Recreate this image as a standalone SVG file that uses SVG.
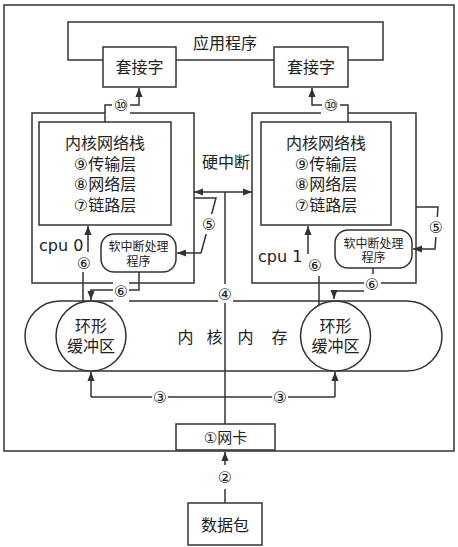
<svg xmlns="http://www.w3.org/2000/svg" width="458" height="547" viewBox="0 0 458 547">
<style>
.b{fill:#fff;stroke:#333;stroke-width:1.5}
.l{fill:none;stroke:#333;stroke-width:1.5}
.c{fill:none;stroke:#333;stroke-width:1.5}
.bg{fill:#fff}
text{font-family:"DejaVu Sans","Noto Sans CJK SC",sans-serif;fill:#222;text-anchor:middle}
.t16{font-size:16px}
.t15{font-size:15px}
.t12{font-size:12px}
.n{font-size:16px;dominant-baseline:central}
.s{text-anchor:start}
</style>
<defs>
<marker id="a" viewBox="0 0 10 8" refX="10" refY="4" markerWidth="9" markerHeight="8" markerUnits="userSpaceOnUse" orient="auto"><path d="M0,0 L10,4 L0,8 z" fill="#333"/></marker>
</defs>
<rect id="frame" class="c" x="4" y="5" width="450" height="446"/>
<g id="app"><rect class="b" x="68" y="22" width="315" height="38"/><text class="t16" x="225" y="49">应用程序</text></g>
<g id="sock0"><rect class="b" x="103" y="47" width="73" height="40"/><text class="t16" x="139.5" y="73">套接字</text></g>
<g id="sock1"><rect class="b" x="274" y="47" width="74" height="40"/><text class="t16" x="311" y="73">套接字</text></g>
<g id="cpu0">
<path class="l" d="M105,113 H32 V283 H194 V113 H128"/>
<text class="t16 s" x="39" y="251">cpu 0</text>
</g>
<g id="stack0"><rect class="b" x="39" y="122" width="132" height="103"/>
<text class="t16" x="105" y="149">内核网络栈</text><text class="t16" x="105" y="170">⑨传输层</text><text class="t16" x="105" y="190">⑧网络层</text><text class="t16" x="105" y="211">⑦链路层</text></g>
<g id="soft0"><rect class="b" x="101" y="234" width="75" height="38" rx="13"/><text class="t12" x="138.5" y="251">软中断处理</text><text class="t12" x="138.5" y="266">程序</text></g>
<g id="cpu1">
<path class="l" d="M321,113 H252 V283 H416 V113 H348"/>
<text class="t16 s" x="258" y="262">cpu 1</text>
</g>
<g id="stack1"><rect class="b" x="261" y="122" width="130" height="103"/>
<text class="t16" x="326" y="149">内核网络栈</text><text class="t16" x="326" y="170">⑨传输层</text><text class="t16" x="326" y="190">⑧网络层</text><text class="t16" x="326" y="211">⑦链路层</text></g>
<g id="soft1"><rect class="b" x="335" y="230" width="77" height="38" rx="13"/><text class="t12" x="373.5" y="247.5">软中断处理</text><text class="t12" x="373.5" y="262">程序</text></g>
<g id="irq"><text class="t16" x="226" y="168">硬中断</text></g>
<g id="mem"><rect class="b" x="25" y="301" width="417" height="70" rx="35"/><text class="t16" x="185.5 214.5 245.5 279.5" y="343">内核内存</text></g>
<g id="ring0"><circle class="b" cx="91" cy="336" r="35"/><text class="t16" x="91" y="332">环形</text><text class="t16" x="91" y="352">缓冲区</text></g>
<g id="ring1"><circle class="b" cx="335.5" cy="336" r="35"/><text class="t16" x="335.5" y="332">环形</text><text class="t16" x="335.5" y="352">缓冲区</text></g>
<g id="nic"><rect class="b" x="176" y="424" width="99" height="26"/><text class="t15" x="225.5" y="442.5">①网卡</text></g>
<g id="packet"><rect class="b" x="188" y="503" width="74" height="42"/><text class="t16" x="225" y="531">数据包</text></g>
<g id="connectors">
<path class="l" d="M105,122 V105 H139 V88" marker-end="url(#a)"/>
<path class="l" d="M348,122 V105 H312 V88" marker-end="url(#a)"/>
<path class="l" d="M225,424 V192"/>
<path class="l" d="M225,192 H194" marker-end="url(#a)"/>
<path class="l" d="M225,192 H252" marker-end="url(#a)"/>
<path class="l" d="M194,198 H216 L201,253 H177" marker-end="url(#a)"/>
<path class="l" d="M416,207 H438 L435,249 H413" marker-end="url(#a)"/>
<path class="l" d="M83,302 V272 M88,252 V226" marker-end="url(#a)"/>
<path class="l" d="M319,305 V276 M308,254 V226" marker-end="url(#a)"/>
<path class="l" d="M139,272 V290 H91 V300" marker-end="url(#a)"/>
<path class="l" d="M373,268 V291 H334 V299" marker-end="url(#a)"/>
<path class="l" d="M91,397 H335"/>
<path class="l" d="M91,397 V372" marker-end="url(#a)"/>
<path class="l" d="M335,397 V372" marker-end="url(#a)"/>
<path class="l" d="M225,503 V452" marker-end="url(#a)"/>
</g>
<g id="labels">
<rect class="bg" x="112" y="96" width="18" height="18"/><text class="n" x="121" y="105">⑩</text>
<rect class="bg" x="322" y="96" width="18" height="18"/><text class="n" x="331" y="105">⑩</text>
<rect class="bg" x="201" y="214" width="16" height="20"/><text class="n" x="209" y="224">⑤</text>
<rect class="bg" x="428" y="217" width="16" height="20"/><text class="n" x="436" y="227">⑤</text>
<rect class="bg" x="76" y="254" width="16" height="18"/><text class="n" x="84" y="263">⑥</text>
<rect class="bg" x="307" y="256" width="16" height="19"/><text class="n" x="315" y="265">⑥</text>
<rect class="bg" x="113" y="281" width="16" height="22"/><text class="n" x="121" y="291">⑥</text>
<rect class="bg" x="364" y="274" width="17" height="20"/><text class="n" x="372" y="284">⑥</text>
<rect class="bg" x="218" y="284" width="15" height="19"/><text class="n" x="225" y="294">④</text>
<rect class="bg" x="152" y="388" width="16" height="18"/><text class="n" x="160" y="397">③</text>
<rect class="bg" x="272" y="388" width="16" height="18"/><text class="n" x="280" y="397">③</text>
<rect class="bg" x="217" y="465" width="16" height="24"/><text class="n" x="225" y="477">②</text>
</g>
</svg>
